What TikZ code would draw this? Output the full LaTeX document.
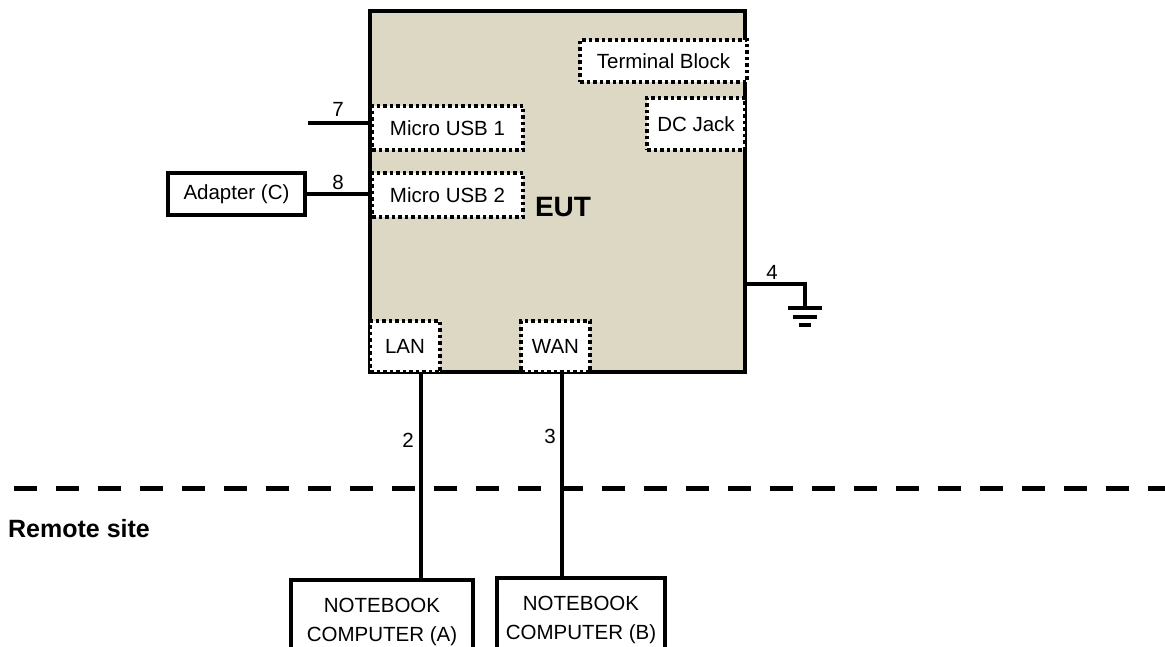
\documentclass[tikz,border=0pt]{standalone}
\usepackage{fontspec}
\setmainfont{Liberation Sans}
\definecolor{eutfill}{RGB}{220,216,196}
\begin{document}
\begin{tikzpicture}[x=1pt,y=-1pt,
  txt/.style={font=\fontsize{20.5}{29}\selectfont},
  port/.style={txt,draw,fill=white,line width=3.5pt,dash pattern=on 3.5pt off 3pt,inner sep=0pt},
  solidbox/.style={txt,draw,fill=white,line width=3.5pt,inner sep=0pt,align=center},
  wire/.style={line width=3.5pt},
  lbl/.style={txt,inner sep=0pt}]
\useasboundingbox (0,0) rectangle (1165,647);
\clip (0,0) rectangle (1165,647);
% EUT
\node[draw,fill=eutfill,line width=3.5pt,minimum width=375,minimum height=361,inner sep=0pt] (eut) at (557.5,191.5) {};
\node[font=\fontsize{28}{32}\selectfont\bfseries,inner sep=0pt] (euttxt) at (563,207) {EUT};
% ports
\node[port,minimum width=167,minimum height=42] (tb) at (663.5,61) {Terminal Block};
\node[port,minimum width=98,minimum height=52] (dc) at (696,124) {DC Jack};
\node[port,minimum width=151,minimum height=44] (mu1) at (447.5,128) {Micro USB 1};
\node[port,minimum width=151,minimum height=44] (mu2) at (447.5,195) {Micro USB 2};
\node[port,minimum width=70,minimum height=51] (lan) at (405,346.5) {LAN};
\node[port,minimum width=69,minimum height=51] (wan) at (555.5,346.5) {WAN};
% external boxes
\node[solidbox,minimum width=182,minimum height=84] (nba) at (382,622) {NOTEBOOK\\COMPUTER (A)};
\node[solidbox,minimum width=168,minimum height=84] (nbb) at (581,620) {NOTEBOOK\\COMPUTER (B)};
\node[solidbox,minimum width=137,minimum height=42] (adp) at (236.5,194) {Adapter (C)};
% site separator
\coordinate (dl) at (14,488);
\coordinate (dr) at (1165,488);
\draw[line width=5pt,dash pattern=on 23pt off 19pt] (dl) -- (dr);
\node[font=\fontsize{25}{30}\selectfont\bfseries,anchor=west,inner sep=0pt] (remote) at (8,529) {Remote site};
% wires
\coordinate (c7) at (308,123);
\draw[wire] (c7) -- (c7 -| eut.west);
\node[lbl] (l7) at (338,109) {7};
\draw[wire] (adp.east) -- (adp.east -| eut.west);
\node[lbl] (l8) at (338,182) {8};
\coordinate (x2) at (421,0);
\draw[wire] (lan.south -| x2) -- (nba.north -| x2);
\node[lbl] (l2) at (408,440) {2};
\coordinate (x3) at (562,0);
\draw[wire] (wan.south -| x3) -- (nbb.north -| x3);
\node[lbl] (l3) at (550,436) {3};
% ground
\coordinate (g0) at (745,284);
\coordinate (gnd) at (805,308);
\draw[wire] (g0) -| (gnd);
\node[lbl] (l4) at (772,272) {4};
\draw[wire] ([xshift=-17]gnd) -- ([xshift=17]gnd);
\draw[wire] ([xshift=-12,yshift=-9]gnd) -- ([xshift=12,yshift=-9]gnd);
\draw[wire] ([xshift=-6,yshift=-17]gnd) -- ([xshift=6,yshift=-17]gnd);
\end{tikzpicture}
\end{document}
